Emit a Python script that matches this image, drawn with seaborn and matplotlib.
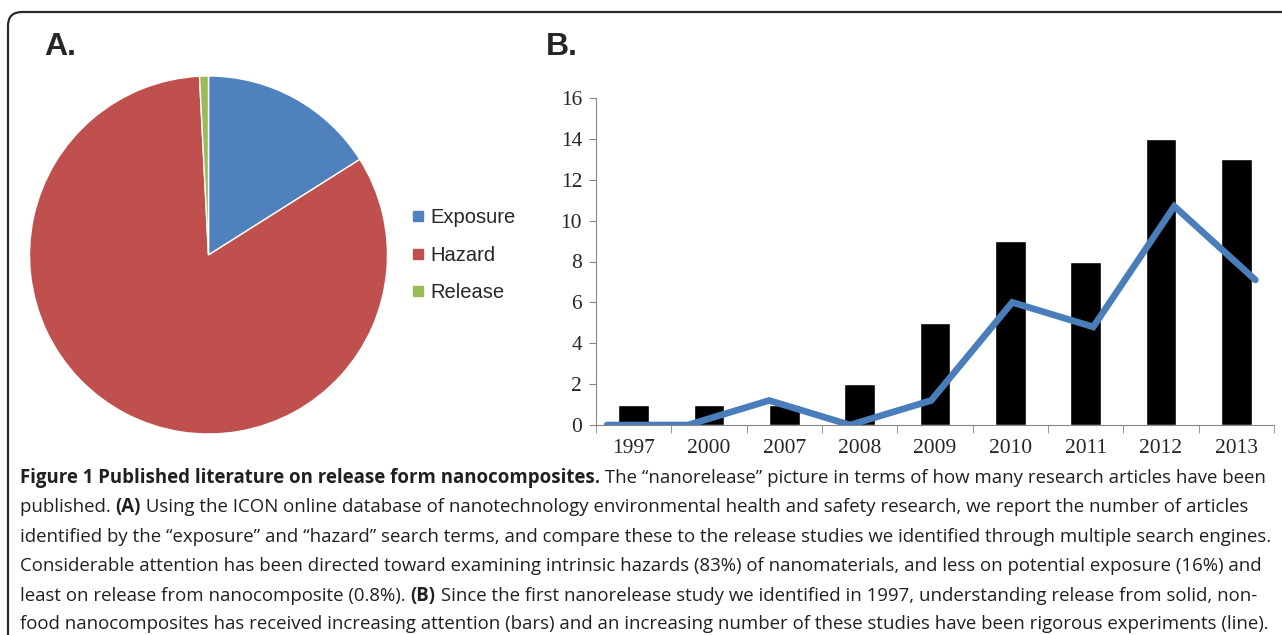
"""Figure 1: nanorelease literature, pie of search terms and bar/line by year."""

import matplotlib

matplotlib.use("Agg")
import matplotlib.pyplot as plt
import numpy as np
import seaborn as sns
from matplotlib.lines import Line2D
from matplotlib.patches import FancyBboxPatch
from matplotlib.transforms import IdentityTransform

# panel A
pie_labels = ["Exposure", "Hazard", "Release"]
pie_shares = [16, 83, 0.8]
pie_colors = ["#4F81BD", "#C0504D", "#9BBB59"]

# panel B
years = ["1997", "2000", "2007", "2008", "2009", "2010", "2011", "2012", "2013"]
studies = [1, 1, 1, 2, 5, 9, 8, 14, 13]
experiments = [0, 0, 1.2, 0, 1.2, 6, 4.8, 10.7, 7.1]
y_ticks = [0, 2, 4, 6, 8, 10, 12, 14, 16]

# caption, one list of (text, bold) pieces per printed line
caption = [
    [("Figure 1 Published literature on release form nanocomposites.", True),
     (" The \u201cnanorelease\u201d picture in terms of how many research articles have been", False)],
    [("published. ", False), ("(A)", True),
     (" Using the ICON online database of nanotechnology environmental health and safety research, we report the number of articles", False)],
    [("identified by the \u201cexposure\u201d and \u201chazard\u201d search terms, and compare these to the release studies we identified through multiple search engines.", False)],
    [("Considerable attention has been directed toward examining intrinsic hazards (83%) of nanomaterials, and less on potential exposure (16%) and", False)],
    [("least on release from nanocomposite (0.8%). ", False), ("(B)", True),
     (" Since the first nanorelease study we identified in 1997, understanding release from solid, non-", False)],
    [("food nanocomposites has received increasing attention (bars) and an increasing number of these studies have been rigorous experiments (line).", False)],
]

W, H = 1282, 635


def px_box(left, top, right, bottom):
    return [left / W, 1 - bottom / H, (right - left) / W, (bottom - top) / H]


sns.set_style("white")
plt.rcParams["font.family"] = ["Liberation Sans", "DejaVu Sans"]

fig = plt.figure(figsize=(W / 100, H / 100), dpi=100)

frame = FancyBboxPatch((8, -30), 1320, H - 12 + 30, boxstyle="round,pad=0,rounding_size=14",
                       transform=IdentityTransform(), fill=False, ec="#2b2b2b", lw=1.6)
fig.add_artist(frame)

fig.text(44 / W, 1 - 47 / H, "A.", fontsize=23, fontweight="bold", va="center")
fig.text(546 / W, 1 - 47 / H, "B.", fontsize=23, fontweight="bold", va="center")

# --- pie
ax_pie = fig.add_axes(px_box(29, 76, 388, 434))
ax_pie.pie(pie_shares, colors=pie_colors, startangle=90, counterclock=False,
           wedgeprops=dict(edgecolor="white", linewidth=1))
ax_pie.set_xlim(-1, 1)
ax_pie.set_ylim(-1, 1)
ax_pie.set_aspect("equal")
ax_pie.set_axis_off()

handles = [Line2D([], [], marker="s", ls="none", markersize=6.5, color=c) for c in pie_colors]
fig.legend(handles, pie_labels, loc="upper left", bbox_to_anchor=(412 / W, 1 - 208 / H),
           frameon=False, fontsize=14.5, handlelength=0.6, handletextpad=0.3,
           labelspacing=0.93, borderpad=0, borderaxespad=0)

# --- bars + line
ax = fig.add_axes(px_box(596, 98, 1274, 425))
sns.barplot(x=years, y=studies, ax=ax, color="black", saturation=1, width=0.41)
ax.set_xlim(-0.5, 8.5)
ax.set_ylim(0, 16)
ax.set_yticks(y_ticks)
ax.set_xticks(np.arange(-0.5, 9, 1), minor=True)
ax.set_xlabel("")
ax.set_ylabel("")
for side in ["top", "right"]:
    ax.spines[side].set_visible(False)
for side in ["left", "bottom"]:
    ax.spines[side].set_color("#868686")
ax.tick_params(axis="y", direction="out", length=5, color="#868686", pad=5, left=True)
ax.tick_params(axis="x", which="major", length=0, pad=10)
ax.tick_params(axis="x", which="minor", direction="out", length=6, color="#868686", bottom=True)
for lab in ax.get_xticklabels() + ax.get_yticklabels():
    lab.set_fontfamily(["Liberation Serif", "DejaVu Serif"])
    lab.set_fontsize(15.5)

ax2 = ax.twiny()
sns.lineplot(x=np.arange(len(years)), y=experiments, ax=ax2, color="#4A7EBB", linewidth=4.8)
ax2.lines[0].set_solid_capstyle("round")
ax2.lines[0].set_solid_joinstyle("miter")
ax2.set_xlim(-0.136, 8.23)
ax2.set_ylim(0, 16)
ax2.set_axis_off()

# --- caption
cap_font = ["Open Sans", "DejaVu Sans"]
cap_size = 12.0
line_y = [478, 507, 537, 566, 596, 624]
pieces = []
for row, y in zip(caption, line_y):
    prev = None
    for text, bold in row:
        kw = dict(fontsize=cap_size, family=cap_font, color="#231F20", va="center",
                  fontweight="bold" if bold else "normal")
        if prev is None:
            t = fig.text(20 / W, 1 - y / H, text, ha="left", **kw)
        else:
            t = fig.add_artist(plt.Annotation(text, xy=(1, 0.5), xycoords=prev, ha="left", **kw))
        pieces.append((t, prev is None))
        prev = t

# scale the caption so the widest line spans the text block
fig.canvas.draw()
renderer = fig.canvas.get_renderer()
rows = []
for t, first in pieces:
    bb = t.get_window_extent(renderer)
    if first:
        rows.append([bb.x0, bb.x1])
    else:
        rows[-1][1] = bb.x1
widest = max(r[1] - r[0] for r in rows)
scale = (1264 - 20) / widest
for t, _ in pieces:
    t.set_fontsize(cap_size * scale)

fig.savefig("out.png", dpi=100)
